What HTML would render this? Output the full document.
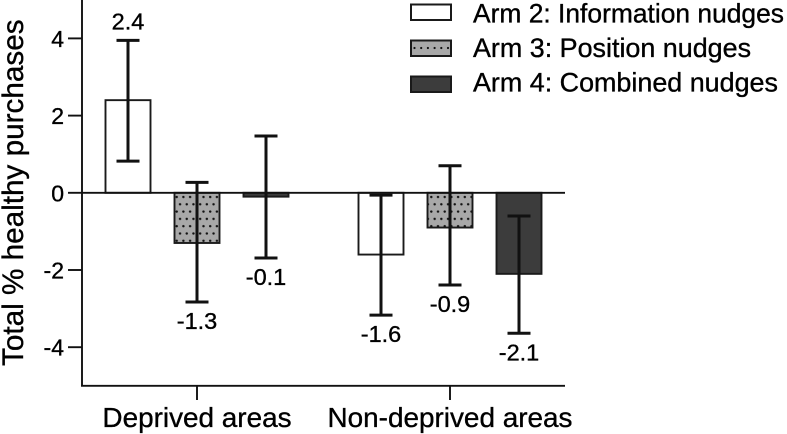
<!DOCTYPE html>
<html>
<head>
<meta charset="utf-8">
<style>
html,body{margin:0;padding:0;background:#fff;width:787px;height:434px;overflow:hidden}
svg{display:block}
text{font-family:"Liberation Sans",Arial,sans-serif;fill:#000;stroke:#000;stroke-width:0.35}
</style>
</head>
<body>
<svg id="chart" xmlns="http://www.w3.org/2000/svg" width="787" height="434" viewBox="0 0 787 434">
<defs>
<pattern id="dots" patternUnits="userSpaceOnUse" width="6.7" height="14.6" x="175" y="193">
<rect width="6.7" height="14.6" fill="#a8a8a8"/>
<circle cx="1.7" cy="4" r="1.2" fill="#111"/>
<circle cx="5.05" cy="11.3" r="1.2" fill="#111"/>
</pattern>
</defs>
</svg>
<script>
const groups = ["Deprived areas", "Non-deprived areas"];
const arms = ["Arm 2: Information nudges", "Arm 3: Position nudges", "Arm 4: Combined nudges"];
const yTicks = [4, 2, 0, -2, -4];
const values = [[2.4, -1.3, -0.1], [-1.6, -0.9, -2.1]];
const errLow = [[0.82, -2.83, -1.69], [-3.17, -2.39, -3.64]];
const errHigh = [[3.95, 0.27, 1.47], [-0.06, 0.70, -0.60]];

const svg = document.getElementById('chart');
const NS = 'http://www.w3.org/2000/svg';
const fills = ['#fff', 'url(#dots)', '#3c3c3c'];
const y = v => 192.8 - 38.6 * v;
const groupX = g => 197 + 253 * g;
const barX = (g, a) => groupX(g) + (a - 1) * 69;
const barW = 45;

function mk(tag, attrs, parent, text) {
  const el = document.createElementNS(NS, tag);
  for (const k in attrs) el.setAttribute(k, attrs[k]);
  if (text !== undefined) el.textContent = text;
  (parent || svg).appendChild(el);
  return el;
}

// bars
groups.forEach((gName, g) => {
  arms.forEach((aName, a) => {
    const v = values[g][a];
    const bar = mk('rect', {x: barX(g, a) - barW / 2, y: Math.min(y(v), y(0)), width: barW, height: Math.abs(y(v) - y(0)), fill: fills[a], stroke: '#1a1a1a', 'stroke-width': 1.9});
    
    
  });
});

// y axis and x axis
const yAxis = mk('line', {x1: 82, x2: 82, y1: 0, y2: y(-5), stroke: '#111', 'stroke-width': 1.9});


const xAxis = mk('line', {x1: 81, x2: 565, y1: y(-5), y2: y(-5), stroke: '#111', 'stroke-width': 1.9});


const zeroLine = mk('line', {x1: 82, x2: 565, y1: y(0), y2: y(0), stroke: '#111', 'stroke-width': 1.9});



yTicks.forEach(t => {
  const tick = mk('line', {x1: 68, x2: 82, y1: y(t), y2: y(t), stroke: '#111', 'stroke-width': 1.9});
  
  
  const lab = mk('text', {x: 64, y: y(t) + 8.5, 'text-anchor': 'end', 'font-size': 23}, svg, String(t));
  
  
});

// error bars and value labels
groups.forEach((gName, g) => {
  arms.forEach((aName, a) => {
    const cx = barX(g, a);
    const hi = y(errHigh[g][a]);
    const lo = y(errLow[g][a]);
    const stem = mk('line', {x1: cx, x2: cx, y1: hi, y2: lo, stroke: '#111', 'stroke-width': 3});
    
    
    [hi, lo].forEach(cy => {
      const cap = mk('line', {x1: cx - 11.5, x2: cx + 11.5, y1: cy, y2: cy, stroke: '#111', 'stroke-width': 3});
      
      
    });
    const v = values[g][a];
    const ly = v > 0 ? hi - 11 : lo + 27;
    const lab = mk('text', {x: cx, y: ly, 'text-anchor': 'middle', 'font-size': 23.5}, svg, v.toFixed(1));
    
    
  });
  const tick = mk('line', {x1: groupX(g), x2: groupX(g), y1: y(-5), y2: 400, stroke: '#111', 'stroke-width': 1.9});
  
  
  const lab = mk('text', {x: groupX(g), y: 427, 'text-anchor': 'middle', 'font-size': 27.9}, svg, gName);
  
  
});

// y axis title
const title = mk('text', {transform: 'translate(23,366) rotate(-90)', 'font-size': 29.7}, svg, 'Total % healthy purchases');



// legend
const legendFills = ['#fff', '#a8a8a8', '#3c3c3c'];
arms.forEach((name, i) => {
  const by = 4.5 + i * 36;
  const sw = mk('rect', {x: 411, y: by, width: 40, height: 15.5, fill: legendFills[i], stroke: '#1a1a1a', 'stroke-width': 2});
  
  
  if (i === 1) {
    [0, 1, 2, 3, 4, 5].forEach(d => {
      const dot = mk('circle', {cx: 414.5 + d * 6.7, cy: by + 7.5, r: 1.1, fill: '#111'});
      
      
    });
  }
  const lab = mk('text', {x: 473, y: 22.5 + i * 34.5, 'font-size': i === 0 ? 26.4 : 26.9}, svg, name);
  
  
});
</script>
</body>
</html>
